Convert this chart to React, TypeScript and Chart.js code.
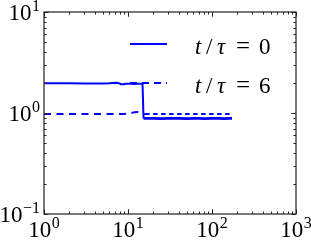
import React, { useEffect, useRef, useState } from "react";
import { Chart, registerables } from "chart.js";

Chart.register(...registerables);

// t/tau = 0 (solid)
const X0 = [1, 1.5, 2, 3, 4, 5, 6, 6.6, 7.2, 7.8, 8.3, 8.8, 9.4, 10, 11, 12, 13, 14, 14.9, 15.3, 17, 20, 25, 30, 40, 50, 60, 70, 80, 100, 120, 140, 160, 173];
const Y0 = [1.97, 1.97, 1.97, 1.96, 1.96, 1.96, 1.97, 1.98, 1.99, 1.97, 1.93, 1.93, 1.95, 1.95, 1.95, 1.94, 1.95, 1.95, 1.95, 0.885, 0.885, 0.885, 0.88, 0.885, 0.885, 0.88, 0.885, 0.885, 0.88, 0.885, 0.885, 0.88, 0.885, 0.885];
// t/tau = 6 (dashed)
const X6 = [1, 2, 3, 5, 7, 9, 10, 11, 12, 13, 14, 15, 16, 18, 20, 30, 50, 80, 120, 173];
const Y6 = [0.98, 0.98, 0.98, 0.98, 0.98, 0.98, 0.99, 1.0, 1.02, 1.025, 1.02, 0.97, 0.975, 0.98, 0.98, 0.98, 0.98, 0.98, 0.98, 0.98];

const SERIES_LABELS = ["0", "6"];
const X_TICKS = [1, 10, 100, 1000];
const X_EXP = ["0", "1", "2", "3"];
const Y_TICKS = [0.1, 1, 10];
const Y_EXP = ["\u22121", "0", "1"];

const BLUE = "#0000ff";
const FAMILY = '"Times New Roman", "Liberation Serif", Tinos';
const W = 311;
const H = 242;
const baseOff = (fs: number) => fs * 0.8375;

const LEGEND_ROWS = [
  { y: 44, dash: [] as number[], base: 54 },
  { y: 83, dash: [7, 5], base: 93 },
];

const decorPlugin = {
  id: "decor",
  afterDraw(chart: any) {
    const { ctx, chartArea: a, scales } = chart;
    const xs = scales.x;
    const ys = scales.y;
    ctx.save();
    ctx.strokeStyle = "#222";
    ctx.lineWidth = 1.2;
    ctx.strokeRect(a.left, a.top, a.right - a.left, a.bottom - a.top);
    ctx.lineWidth = 1;
    ctx.beginPath();
    for (let d = 0; d < 3; d++) {
      for (let m = 1; m <= 10; m++) {
        const v = m * Math.pow(10, d);
        const px = Math.round(xs.getPixelForValue(v)) + 0.5;
        const len = m === 1 || m === 10 ? 4.5 : 2.5;
        ctx.moveTo(px, a.bottom);
        ctx.lineTo(px, a.bottom - len);
        ctx.moveTo(px, a.top);
        ctx.lineTo(px, a.top + len);
      }
    }
    for (let d = -1; d < 1; d++) {
      for (let m = 1; m <= 10; m++) {
        const v = m * Math.pow(10, d);
        const py = Math.round(ys.getPixelForValue(v)) + 0.5;
        const len = m === 1 || m === 10 ? 4.5 : 2.5;
        ctx.moveTo(a.left, py);
        ctx.lineTo(a.left + len, py);
        ctx.moveTo(a.right, py);
        ctx.lineTo(a.right - len, py);
      }
    }
    ctx.stroke();
    LEGEND_ROWS.forEach((r) => {
      ctx.strokeStyle = BLUE;
      ctx.lineWidth = 2;
      ctx.setLineDash(r.dash);
      ctx.beginPath();
      ctx.moveTo(130, r.y);
      ctx.lineTo(167, r.y);
      ctx.stroke();
    });
    ctx.setLineDash([]);
    ctx.restore();
  },
};

function Piece(props: { x: number; base: number; fs: number; italic?: boolean; text: string }) {
  const { x, base, fs, italic, text } = props;
  return (
    <span
      style={{
        position: "absolute",
        left: x,
        top: base - baseOff(fs),
        fontFamily: FAMILY,
        fontSize: fs,
        lineHeight: fs + "px",
        fontStyle: italic ? "italic" : "normal",
        whiteSpace: "nowrap",
      }}
    >
      {text}
    </span>
  );
}

function Pow(props: { exp: string; style: React.CSSProperties }) {
  return (
    <span
      style={{
        position: "absolute",
        fontFamily: FAMILY,
        fontSize: 23,
        lineHeight: "23px",
        whiteSpace: "nowrap",
        ...props.style,
      }}
    >
      10
      <span style={{ fontFamily: FAMILY, fontSize: 16, position: "relative", top: -9, marginLeft: 0.5 }}>{props.exp}</span>
    </span>
  );
}

export default function App() {
  const ref = useRef<HTMLCanvasElement>(null);
  const [pos, setPos] = useState<{ xt: number[]; yt: number[] } | null>(null);
  useEffect(() => {
    const canvas = ref.current;
    if (!canvas) return;
    const chart = new Chart(canvas, {
      type: "line",
      data: {
        datasets: [
          {
            label: "t/τ = " + SERIES_LABELS[0],
            data: X0.map((x, i) => ({ x, y: Y0[i] })),
            borderColor: BLUE,
            borderWidth: 2,
            pointRadius: 0,
            tension: 0,
            fill: false,
            segment: {
              borderWidth: (c: any) => (c.p0.parsed.x >= 15 ? 2.6 : 2),
            },
          },
          {
            label: "t/τ = " + SERIES_LABELS[1],
            data: X6.map((x, i) => ({ x, y: Y6[i] })),
            borderColor: BLUE,
            borderWidth: 2,
            borderDash: [7, 5.5],
            pointRadius: 0,
            tension: 0,
            fill: false,
            segment: {
              borderDash: (c: any) => (c.p0.parsed.x >= 16 ? [4.5, 3.5] : [7, 5.5]),
            },
          },
        ],
      },
      options: {
        responsive: false,
        animation: false,
        devicePixelRatio: 1,
        layout: { padding: { left: 44, right: 15, top: 12, bottom: 28 } },
        plugins: { legend: { display: false }, tooltip: { enabled: false } },
        scales: {
          x: { type: "logarithmic", min: 1, max: 1000, display: false },
          y: { type: "logarithmic", min: 0.1, max: 10, display: false },
        },
      },
      plugins: [decorPlugin],
    } as any);
    const xs: any = chart.scales.x;
    const ys: any = chart.scales.y;
    setPos({
      xt: X_TICKS.map((v) => xs.getPixelForValue(v)),
      yt: Y_TICKS.map((v) => ys.getPixelForValue(v)),
    });
    return () => chart.destroy();
  }, []);

  return (
    <div
      style={{
        position: "absolute",
        left: 0,
        top: 0,
        width: W,
        height: H,
        background: "#fff",
        overflow: "hidden",
        color: "#000",
        fontFamily: FAMILY,
      }}
    >
      <canvas ref={ref} width={W} height={H} style={{ display: "block", width: W, height: H }} />
      {pos &&
        X_TICKS.map((v, i) => (
          <Pow
            key={"x" + v}
            exp={X_EXP[i]}
            style={{ left: pos.xt[i], top: 237 - baseOff(23), transform: "translateX(-50%)" }}
          />
        ))}
      {pos &&
        Y_TICKS.map((v, i) => (
          <Pow key={"y" + v} exp={Y_EXP[i]} style={{ right: W - 40, top: pos.yt[i] + 8 - baseOff(23) }} />
        ))}
      {LEGEND_ROWS.map((r, i) => (
        <React.Fragment key={"l" + i}>
          <Piece x={195} base={r.base} fs={23} italic text="t" />
          <Piece x={206} base={r.base} fs={23} text="/" />
          <Piece x={217} base={r.base} fs={23} italic text={"\u03c4"} />
          <Piece x={236} base={r.base} fs={25} text="=" />
          <Piece x={259} base={r.base} fs={23} text={SERIES_LABELS[i]} />
        </React.Fragment>
      ))}
    </div>
  );
}
